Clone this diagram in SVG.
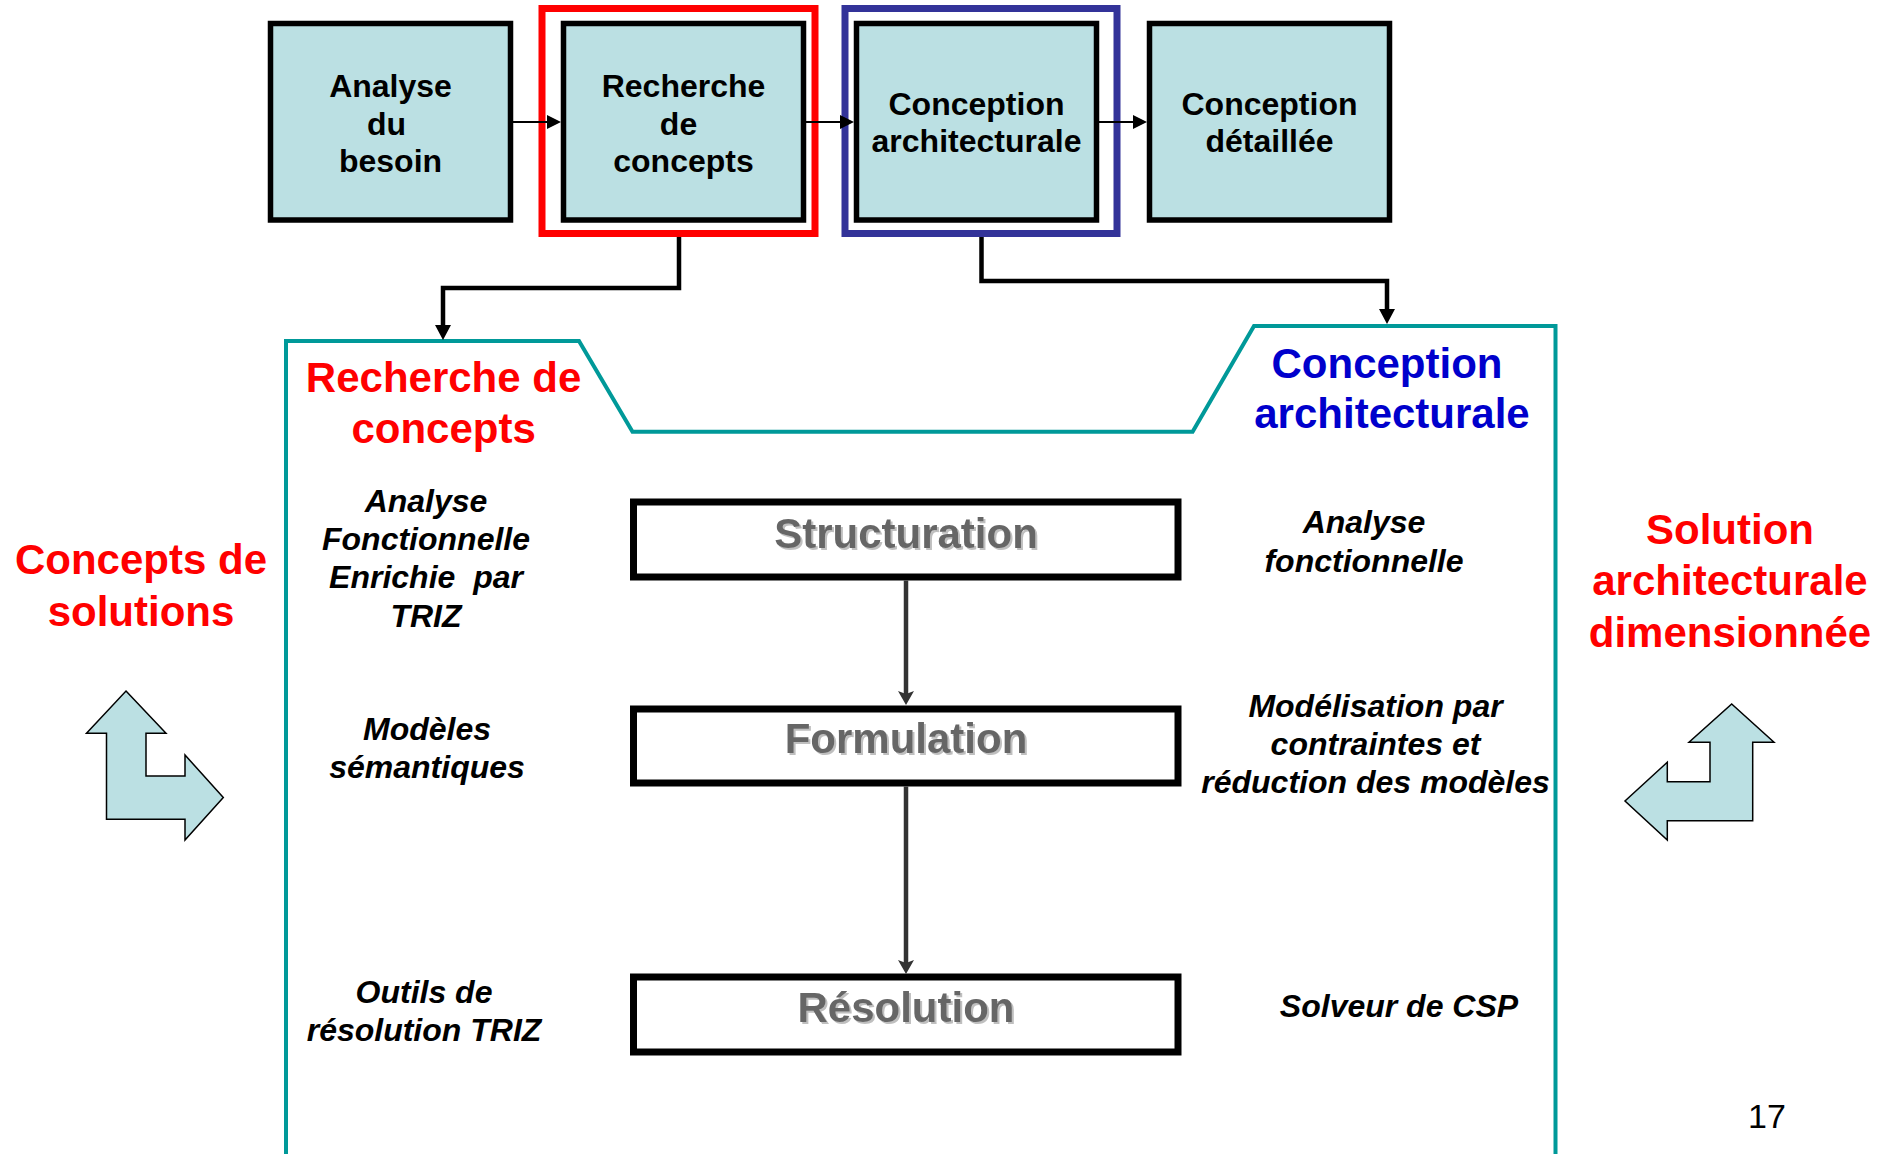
<svg xmlns="http://www.w3.org/2000/svg" width="1892" height="1154" viewBox="0 0 1892 1154">
<style>
.box{fill:#BBE0E3;stroke:#000;stroke-width:5.5}
.pbox{fill:#fff;stroke:#000;stroke-width:7}
.t{font-family:"Liberation Sans",Arial,sans-serif;font-weight:bold;text-anchor:middle}
.bt{font-size:32px;fill:#000}
.big{font-size:42px}
.red{fill:#FF0000}
.blue{fill:#0000CC}
.it{font-size:32px;font-style:italic;fill:#000;white-space:pre}
.pt{font-size:42px;fill:#666666}
.thin{fill:none;stroke:#000;stroke-width:2}
.thick{fill:none;stroke:#000;stroke-width:4.5}
.gray{fill:none;stroke:#333;stroke-width:4.5}
.teal{fill:none;stroke:#009999;stroke-width:4;stroke-linejoin:miter}
.bend{fill:#BBE0E3;stroke:#000;stroke-width:1.5;stroke-linejoin:miter}
</style>
<defs>
<marker id="aThin" markerUnits="userSpaceOnUse" markerWidth="14" markerHeight="14" refX="0" refY="7" orient="auto"><path d="M0,0 L14,7 L0,14 z" fill="#000"/></marker>
<marker id="aThick" markerUnits="userSpaceOnUse" markerWidth="15" markerHeight="16" refX="0" refY="8" orient="auto"><path d="M0,0 L15,8 L0,16 z" fill="#000"/></marker>
<marker id="aDart" markerUnits="userSpaceOnUse" markerWidth="14" markerHeight="16" refX="3" refY="8" orient="auto"><path d="M0,0 L14,8 L0,16 L3,8 z" fill="#333"/></marker>
<filter id="shadow" x="-5%" y="-20%" width="110%" height="140%">
<feOffset in="SourceAlpha" dx="2" dy="2" result="o"/>
<feFlood flood-color="#BFBFBF"/>
<feComposite in2="o" operator="in" result="s"/>
<feMerge><feMergeNode in="s"/><feMergeNode in="SourceGraphic"/></feMerge>
</filter>
</defs>
<rect width="1892" height="1154" fill="#fff"/>

<g id="panel">
<polyline class="teal" points="286,1160 286,341 579,341 632.5,431.7 1192.6,431.7 1254,326 1555.5,326 1555.5,1160"/>
</g>

<g id="frame-recherche"><rect x="542" y="8.5" width="273" height="225" fill="none" stroke="#FF0000" stroke-width="7"/></g>
<g id="frame-conception"><rect x="845" y="8.5" width="272" height="225" fill="none" stroke="#333399" stroke-width="7"/></g>

<g id="n-analyse">
<rect class="box" x="270.5" y="23.5" width="240" height="196.5"/>
<text class="t bt"><tspan x="390.5" y="96.7">Analyse</tspan><tspan x="386.5" y="134.5">du</tspan><tspan x="390.5" y="172">besoin</tspan></text>
</g>
<g id="n-recherche">
<rect class="box" x="563.5" y="23.5" width="240" height="196.5"/>
<text class="t bt"><tspan x="683.5" y="96.7">Recherche</tspan><tspan x="678.5" y="134.5">de</tspan><tspan x="683.5" y="172">concepts</tspan></text>
</g>
<g id="n-conception-arch">
<rect class="box" x="856.5" y="23.5" width="240" height="196.5"/>
<text class="t bt"><tspan x="976.5" y="115">Conception</tspan><tspan x="976.5" y="152">architecturale</tspan></text>
</g>
<g id="n-conception-det">
<rect class="box" x="1149.5" y="23.5" width="240" height="196.5"/>
<text class="t bt"><tspan x="1269.5" y="115">Conception</tspan><tspan x="1269.5" y="152">détaillée</tspan></text>
</g>

<g id="title-recherche"><text class="t big red"><tspan x="443.6" y="392.3">Recherche de</tspan><tspan x="443.6" y="443.3">concepts</tspan></text></g>
<g id="title-conception"><text class="t big blue"><tspan x="1387" y="378.3">Conception</tspan><tspan x="1392" y="428.3">architecturale</tspan></text></g>

<g id="label-concepts-solutions"><text class="t big red"><tspan x="141" y="574">Concepts de</tspan><tspan x="141" y="626">solutions</tspan></text></g>
<g id="label-solution-arch"><text class="t big red"><tspan x="1730" y="543.5">Solution</tspan><tspan x="1730" y="595">architecturale</tspan><tspan x="1730" y="646.5">dimensionnée</tspan></text></g>

<g id="arrow-left"><polygon class="bend" points="126,691 166,733.3 146,733.3 146,776 185,776 185,755 223.3,797.5 185,840 185,819.3 106.5,819.3 106.5,733.3 86.5,733.3"/></g>
<g id="arrow-right"><polygon class="bend" points="1731.7,704 1774,742.3 1752.7,742.3 1752.7,820.7 1667.3,820.7 1667.3,840 1625,801 1667.3,762.3 1667.3,781.7 1710,781.7 1710,742.3 1689,742.3"/></g>

<g id="n-structuration">
<rect class="pbox" x="633.5" y="502" width="544.5" height="75"/>
<text class="t pt" x="906" y="548.3" filter="url(#shadow)">Structuration</text>
</g>
<g id="n-formulation">
<rect class="pbox" x="633.5" y="709" width="544.5" height="74"/>
<text class="t pt" x="906" y="752.7" filter="url(#shadow)">Formulation</text>
</g>
<g id="n-resolution">
<rect class="pbox" x="633.5" y="977" width="544.5" height="75"/>
<text class="t pt" x="906" y="1021.7" filter="url(#shadow)">Résolution</text>
</g>

<g id="left-labels">
<text class="t it"><tspan x="426" y="511.7">Analyse</tspan><tspan x="426" y="550">Fonctionnelle</tspan><tspan x="426" y="588.3">Enrichie  par</tspan><tspan x="426" y="626.7">TRIZ</tspan></text>
<text class="t it"><tspan x="427" y="740">Modèles</tspan><tspan x="427" y="778">sémantiques</tspan></text>
<text class="t it"><tspan x="424" y="1002.5">Outils de</tspan><tspan x="424" y="1040.5">résolution TRIZ</tspan></text>
</g>
<g id="right-labels">
<text class="t it"><tspan x="1364" y="533.3">Analyse</tspan><tspan x="1364" y="571.7">fonctionnelle</tspan></text>
<text class="t it"><tspan x="1375.5" y="717">Modélisation par</tspan><tspan x="1375.5" y="755">contraintes et</tspan><tspan x="1375.5" y="793">réduction des modèles</tspan></text>
<text class="t it" x="1399" y="1016.7">Solveur de CSP</text>
</g>

<g id="connectors">
<path class="thin" d="M513,122 H547" marker-end="url(#aThin)"/>
<path class="thin" d="M806,122 H840" marker-end="url(#aThin)"/>
<path class="thin" d="M1099,122 H1133" marker-end="url(#aThin)"/>
<path class="thick" d="M679,237 V288 H443 V325" marker-end="url(#aThick)"/>
<path class="thick" d="M981.5,237 V281 H1387 V309" marker-end="url(#aThick)"/>
<path class="gray" d="M906,580.5 V694" marker-end="url(#aDart)"/>
<path class="gray" d="M906,786.5 V963" marker-end="url(#aDart)"/>
</g>

<text x="1748" y="1128" font-family="Liberation Sans, Arial, sans-serif" font-size="34" fill="#000">17</text>
</svg>
